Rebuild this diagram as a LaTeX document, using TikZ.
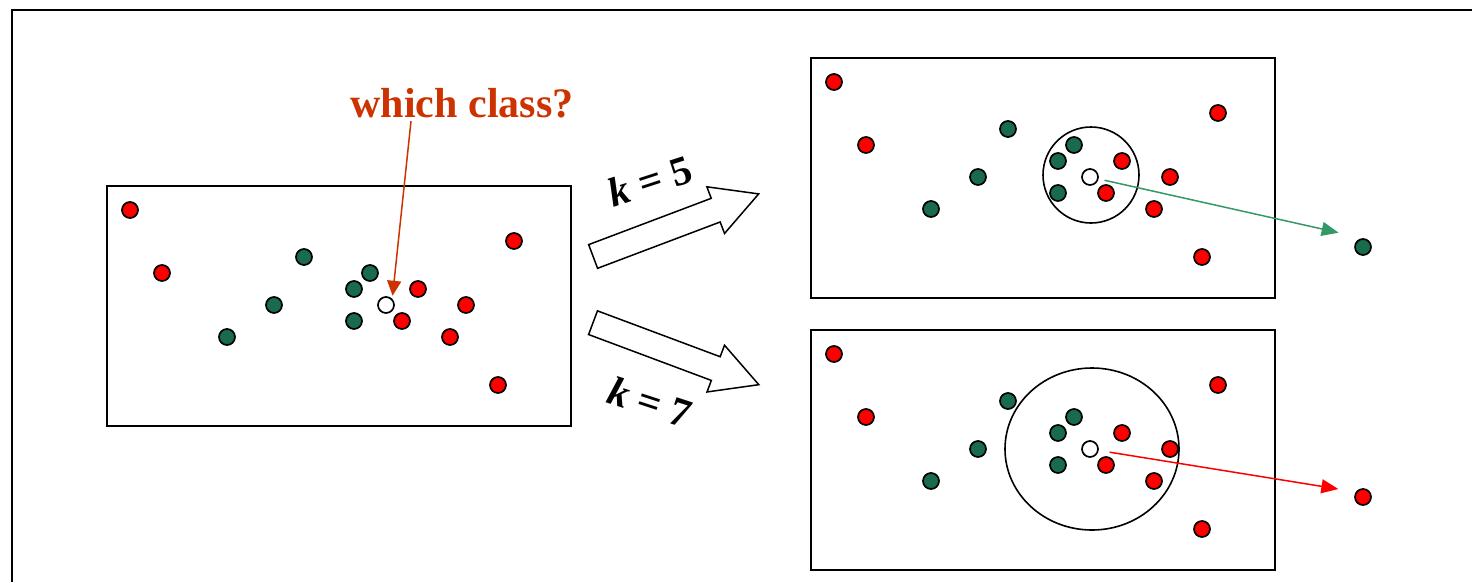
\documentclass[tikz,border=0pt]{standalone}
\usepackage{fontspec}
\setmainfont{Liberation Serif}
\usetikzlibrary{arrows.meta, shapes.arrows}

\definecolor{dotgreen}{RGB}{24,108,76}
\definecolor{arrowgreen}{RGB}{51,153,102}
\definecolor{askred}{RGB}{204,51,0}

\tikzset{
	dotbase/.style={circle, draw, line width=1.7pt, minimum size=16pt, inner sep=0pt},
	reddot/.style={dotbase, fill=red},
	greendot/.style={dotbase, fill=dotgreen},
	querydot/.style={dotbase, fill=white}
}
\tikzset{
	scatterbox/.pic={
			\draw[line width=1.8pt] (0,0) rectangle (464,240);
			\node[reddot] (-r1) at (23,24) {};
			\node[reddot] (-r2) at (55,87) {};
			\node[reddot] (-r3) at (407,55) {};
			\node[reddot] (-r4) at (311,103) {};
			\node[reddot] (-r5) at (359,119) {};
			\node[reddot] (-r6) at (295,135) {};
			\node[reddot] (-r7) at (343,151) {};
			\node[reddot] (-r8) at (391,199) {};
			\node[greendot] (-g1) at (197,71) {};
			\node[greendot] (-g2) at (167,119) {};
			\node[greendot] (-g3) at (120,151) {};
			\node[greendot] (-g4) at (263,87) {};
			\node[greendot] (-g5) at (247,103) {};
			\node[greendot] (-g6) at (247,135) {};
			\node[querydot] (-q) at (279,119) {};
		}
}
\tikzset{
	bigarrow/.style={single arrow, draw, line width=1.5pt, fill=white,
			inner xsep=0pt, inner ysep=11.9pt,
			minimum height=177pt,
			single arrow head extend=12.3pt, single arrow tip angle=57}
}
\tikzset{
	klabel/.style={font=\bfseries\fontsize{41}{41}\selectfont}
}

\begin{document}
\begin{tikzpicture}[x=1pt,y=-1pt]

	\useasboundingbox (0,0) rectangle (1472,582);
	\draw[line width=2.5pt] (12,582) -- (12,10) -- (1472,10);

	\coordinate (pL) at (107,186);
	\coordinate (pU) at (811,58);
	\coordinate (pD) at (811,330);

	\pic (left) at (pL) {scatterbox};
	\pic (up) at (pU) {scatterbox};
	\pic (down) at (pD) {scatterbox};

	% neighbourhoods of the query point
	\draw[line width=1.6pt] ([xshift=1pt,yshift=2pt]up-q.center) circle [radius=48pt];
	\draw[line width=1.6pt] ([xshift=2pt]down-q.center) ellipse [x radius=87pt, y radius=81pt];

	\node[greendot] (gout) at (1363,247) {};
	\node[reddot] (rout) at (1363,497) {};

	\draw[arrowgreen, line width=1.5pt, -{Triangle[length=17pt,width=14pt]},
		shorten <=6pt, shorten >=25pt] (up-q) -- (gout.north);
	\draw[red, line width=1.5pt, -{Triangle[length=17pt,width=14pt]},
		shorten <=11pt, shorten >=25pt] (down-q) -- ([yshift=4pt]rout.center);

	% question
	\node[font=\bfseries\fontsize{42}{42}\selectfont, text=askred, anchor=base] (question) at (462,117) {which class?};
	\draw[askred, line width=1.5pt, -{Triangle[length=15pt,width=14pt]}, shorten >=3pt]
	([xshift=-51pt]question.south) -- (left-q.north east);

	% k arrows
	\node[bigarrow, rotate=20.7] (toUp) at (665,229.3) {};
	\node[bigarrow, rotate=-20.5] (toDown) at (665,349.6) {};

	\node[klabel, rotate=18] (k5) at (650,181) {\textit{k} = 5};
	\node[klabel, rotate=-18] (k7) at (650,402) {\textit{k} = 7};

\end{tikzpicture}
\end{document}
